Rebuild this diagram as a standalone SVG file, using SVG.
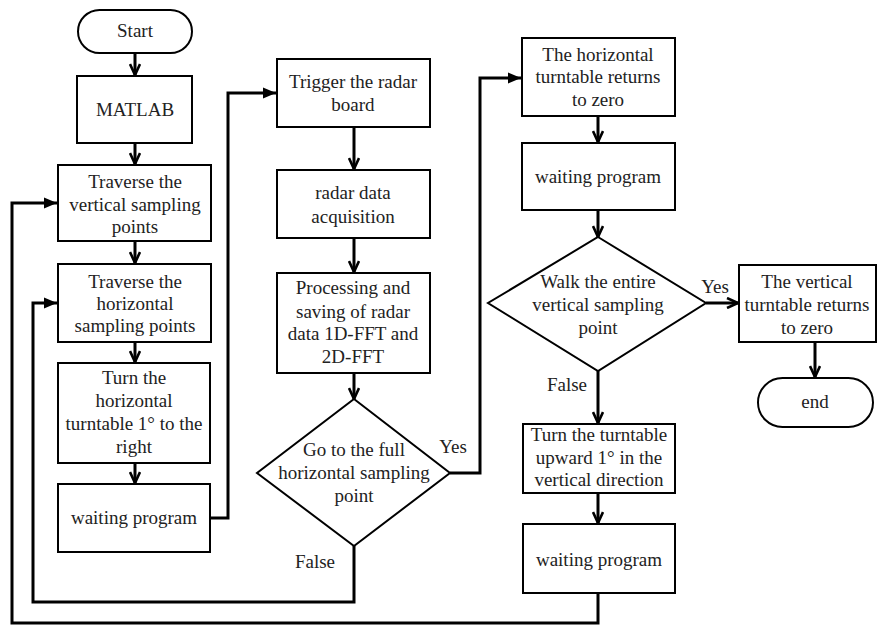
<svg xmlns="http://www.w3.org/2000/svg" width="878" height="625" viewBox="0 0 878 625">
<style>
.b{fill:#fff;stroke:#000;stroke-width:2}
.t{font-family:'Liberation Serif','Times New Roman','DejaVu Serif',serif;font-size:19px;fill:#222;text-anchor:middle}
.c{fill:none;stroke:#000;stroke-width:3}
</style>
<defs>
<marker id="ch" viewBox="0 0 14 12" refX="12" refY="6" markerWidth="14" markerHeight="12" markerUnits="userSpaceOnUse" orient="auto">
<path d="M1,1 L12,6 L1,11" fill="none" stroke="#000" stroke-width="2.6"/>
</marker>
<marker id="fa" viewBox="0 0 13 12" refX="13" refY="6" markerWidth="13" markerHeight="12" markerUnits="userSpaceOnUse" orient="auto">
<path d="M0,0.5 L13,6 L0,11.5 z" fill="#000"/>
</marker>
</defs>
<rect width="878" height="625" fill="#fff"/>
<g id="connectors">
<path class="c" d="M135,53 V75" marker-end="url(#ch)"/>
<path class="c" d="M135,143 V164" marker-end="url(#ch)"/>
<path class="c" d="M135,241 V263" marker-end="url(#ch)"/>
<path class="c" d="M135,342 V362" marker-end="url(#ch)"/>
<path class="c" d="M135,463 V483" marker-end="url(#ch)"/>
<path class="c" d="M210,518 H228 V93 H276" marker-end="url(#fa)"/>
<path class="c" d="M354,127 V169" marker-end="url(#ch)"/>
<path class="c" d="M354,238 V272" marker-end="url(#ch)"/>
<path class="c" d="M354,373 V399" marker-end="url(#ch)"/>
<path class="c" d="M450,473 H480 V78 H521" marker-end="url(#fa)"/>
<path class="c" d="M354,546 V602 H33 V303 H57" marker-end="url(#fa)"/>
<path class="c" d="M598,116 V142" marker-end="url(#ch)"/>
<path class="c" d="M598,210 V237" marker-end="url(#ch)"/>
<path class="c" d="M706,303 H738" marker-end="url(#ch)"/>
<path class="c" d="M598,371 V423" marker-end="url(#ch)"/>
<path class="c" d="M598,493 V523" marker-end="url(#ch)"/>
<path class="c" d="M598,593 V623 H12 V203 H57" marker-end="url(#fa)"/>
<path class="c" d="M815,342 V377" marker-end="url(#ch)"/>
</g>
<g id="start"><rect class="b" x="78" y="10" width="114" height="43" rx="21.5"/><text class="t" x="135" y="37">Start</text></g>
<g id="matlab"><rect class="b" x="77" y="76" width="115" height="67"/><text class="t" x="135" y="116">MATLAB</text></g>
<g id="trav-v"><rect class="b" x="58" y="165" width="153" height="76"/><text class="t" x="135" y="188">Traverse the</text><text class="t" x="135" y="211">vertical sampling</text><text class="t" x="135" y="233">points</text></g>
<g id="trav-h"><rect class="b" x="58" y="264" width="153" height="78"/><text class="t" x="135" y="288">Traverse the</text><text class="t" x="135" y="310">horizontal</text><text class="t" x="135" y="332">sampling points</text></g>
<g id="turn-h"><rect class="b" x="58" y="363" width="152" height="100"/><text class="t" x="134" y="384">Turn the</text><text class="t" x="134" y="407">horizontal</text><text class="t" x="134" y="430">turntable 1° to the</text><text class="t" x="134" y="453">right</text></g>
<g id="wait1"><rect class="b" x="58" y="484" width="152" height="68"/><text class="t" x="134" y="524">waiting program</text></g>
<g id="trigger"><rect class="b" x="277" y="59" width="153" height="68"/><text class="t" x="353" y="88">Trigger the radar</text><text class="t" x="353" y="111">board</text></g>
<g id="radar"><rect class="b" x="277" y="170" width="153" height="68"/><text class="t" x="353" y="199">radar data</text><text class="t" x="353" y="223">acquisition</text></g>
<g id="process"><rect class="b" x="277" y="273" width="153" height="100"/><text class="t" x="353" y="294">Processing and</text><text class="t" x="353" y="318">saving of radar</text><text class="t" x="353" y="340">data 1D-FFT and</text><text class="t" x="353" y="363">2D-FFT</text></g>
<g id="decision1"><polygon class="b" points="354,399 450,473 354,546 257,473"/><text class="t" x="354" y="456">Go to the full</text><text class="t" x="354" y="479">horizontal sampling</text><text class="t" x="354" y="502">point</text><text class="t" x="453" y="453">Yes</text><text class="t" x="315" y="568">False</text></g>
<g id="h-zero"><rect class="b" x="522" y="38" width="153" height="78"/><text class="t" x="598" y="61">The horizontal</text><text class="t" x="598" y="83">turntable returns</text><text class="t" x="598" y="106">to zero</text></g>
<g id="wait2"><rect class="b" x="522" y="143" width="153" height="67"/><text class="t" x="598" y="183">waiting program</text></g>
<g id="decision2"><polygon class="b" points="598,237 706,303 598,371 488,303"/><text class="t" x="598" y="288">Walk the entire</text><text class="t" x="598" y="311">vertical sampling</text><text class="t" x="598" y="334">point</text><text class="t" x="715" y="293">Yes</text><text class="t" x="567" y="391">False</text></g>
<g id="v-zero"><rect class="b" x="739" y="265" width="137" height="77"/><text class="t" x="807" y="288">The vertical</text><text class="t" x="807" y="311">turntable returns</text><text class="t" x="807" y="334">to zero</text></g>
<g id="end"><rect class="b" x="758" y="378" width="115" height="49" rx="24.5"/><text class="t" x="815" y="408">end</text></g>
<g id="turn-v"><rect class="b" x="523" y="424" width="152" height="69"/><text class="t" x="599" y="441">Turn the turntable</text><text class="t" x="599" y="464">upward 1° in the</text><text class="t" x="599" y="486">vertical direction</text></g>
<g id="wait3"><rect class="b" x="523" y="524" width="152" height="69"/><text class="t" x="599" y="566">waiting program</text></g>
</svg>
